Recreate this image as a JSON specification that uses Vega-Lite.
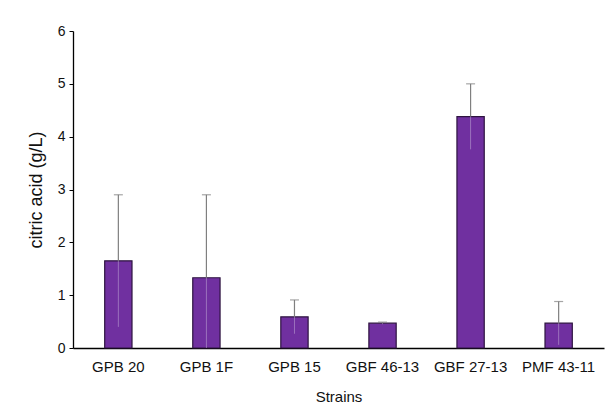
{
  "$schema": "https://vega.github.io/schema/vega-lite/v6.json",
  "width": 531,
  "height": 317,
  "autosize": "none",
  "padding": {"left": 73, "top": 31, "right": 9, "bottom": 66},
  "background": "white",
  "data": {
    "values": [
      {"strain": "GPB 20", "citric": 1.65, "lo": 0.40, "hi": 2.90},
      {"strain": "GPB 1F", "citric": 1.33, "lo": 0.00, "hi": 2.90},
      {"strain": "GPB 15", "citric": 0.59, "lo": 0.27, "hi": 0.91},
      {"strain": "GBF 46-13", "citric": 0.47, "lo": 0.45, "hi": 0.49},
      {"strain": "GBF 27-13", "citric": 4.38, "lo": 3.76, "hi": 5.00},
      {"strain": "PMF 43-11", "citric": 0.47, "lo": 0.06, "hi": 0.88}
    ]
  },
  "encoding": {
    "x": {
      "field": "strain",
      "type": "nominal",
      "sort": null,
      "scale": {"paddingInner": 0.69, "paddingOuter": 0.36},
      "axis": {
        "title": "Strains",
        "labelAngle": 0,
        "ticks": false,
        "labelPadding": 11,
        "titlePadding": 15,
        "labelFontSize": 15,
        "titleFontSize": 15,
        "titleFontWeight": "normal",
        "labelFont": "Liberation Sans",
        "titleFont": "Liberation Sans",
        "labelColor": "#111111",
        "titleColor": "#111111",
        "domainColor": "#000000",
        "domainWidth": 1.3
      }
    }
  },
  "layer": [
    {
      "mark": {"type": "bar", "color": "#7030a0", "stroke": "#2e1440", "strokeWidth": 1.2},
      "encoding": {
        "y": {
          "field": "citric",
          "type": "quantitative",
          "scale": {"domain": [0, 6], "nice": false},
          "axis": {
            "title": "citric acid (g/L)",
            "values": [0, 1, 2, 3, 4, 5, 6],
            "grid": false,
            "tickSize": 4,
            "tickColor": "#000000",
            "labelPadding": 4,
            "titlePadding": 12,
            "labelFontSize": 14,
            "titleFontSize": 18,
            "titleFontWeight": "normal",
            "labelFont": "Liberation Sans",
            "titleFont": "Liberation Sans",
            "labelColor": "#111111",
            "titleColor": "#111111",
            "domainColor": "#000000",
            "domainWidth": 1.3
          }
        }
      }
    },
    {
      "mark": {"type": "rule", "color": "#d0c0e0", "strokeWidth": 1, "opacity": 0.45},
      "encoding": {
        "y": {"field": "lo", "type": "quantitative"},
        "y2": {"field": "citric"}
      }
    },
    {
      "mark": {"type": "rule", "color": "#7f7f7f", "strokeWidth": 1.2},
      "encoding": {
        "y": {"field": "citric", "type": "quantitative"},
        "y2": {"field": "hi"}
      }
    },
    {
      "mark": {"type": "tick", "color": "#7f7f7f", "orient": "horizontal", "size": 9, "thickness": 1.2},
      "encoding": {
        "y": {"field": "hi", "type": "quantitative"}
      }
    }
  ],
  "config": {
    "view": {"stroke": null}
  }
}
